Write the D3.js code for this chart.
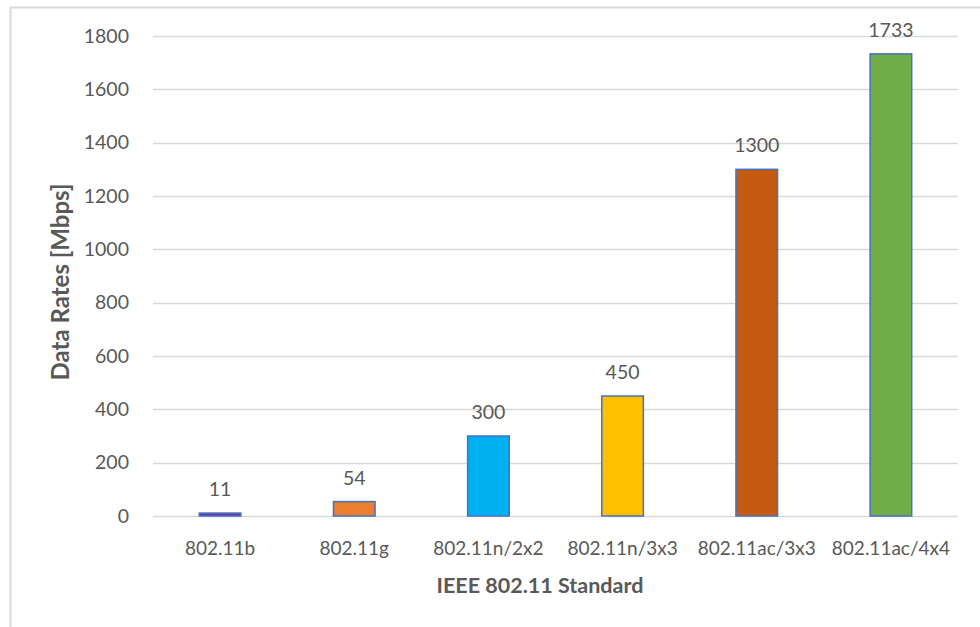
<!DOCTYPE html>
<html>
<head>
<meta charset="utf-8">
<script src="https://cdn.jsdelivr.net/npm/d3@7"></script>
<style>
  html, body { margin: 0; padding: 0; background: #fff; }
  svg { display: block; }
  text { font-family: Lato, "Open Sans", sans-serif; fill: #595959; }
</style>
</head>
<body>
<svg id="chart" width="980" height="627"></svg>
<script>
// Wi-Fi standards and their peak data rates (Mbps)
const standards = ["802.11b", "802.11g", "802.11n/2x2", "802.11n/3x3", "802.11ac/3x3", "802.11ac/4x4"];
const rates = [11, 54, 300, 450, 1300, 1733];
const barColors = ["#7030A0", "#ED7D31", "#00B0F0", "#FFC000", "#C55A11", "#70AD47"];
const yTicks = [0, 200, 400, 600, 800, 1000, 1200, 1400, 1600, 1800];

const svg = d3.select("#chart");
const W = 980, H = 627;
const plot = { left: 153, right: 958, top: 36, bottom: 516 };
const FONT = "Lato, 'Open Sans', sans-serif";

// chart frame
svg.append("rect")
  .attr("x", 10.5).attr("y", 7.5)
  .attr("width", W + 10).attr("height", H + 10)
  .attr("fill", "#fff").attr("stroke", "#d9d9d9").attr("stroke-width", 2);

const x = d3.scaleBand()
  .domain(standards)
  .range([plot.left, plot.right])
  .paddingInner(0.69).paddingOuter(0.345);

const y = d3.scaleLinear().domain([0, 1800]).range([plot.bottom, plot.top]);

// horizontal gridlines
svg.append("g")
  .selectAll("line").data(yTicks).join("line")
  .attr("x1", plot.left).attr("x2", plot.right)
  .attr("y1", d => Math.round(y(d)) + 0.5).attr("y2", d => Math.round(y(d)) + 0.5)
  .attr("stroke", "#d9d9d9").attr("stroke-width", 1.5);

// y axis labels
const yAxis = d3.axisLeft(y).tickValues(yTicks).tickFormat(d3.format("d")).tickSize(0).tickPadding(0);
const gy = svg.append("g").attr("transform", `translate(${plot.left - 24},0)`).call(yAxis);
gy.select(".domain").remove();
gy.selectAll("text").attr("font-size", 19.5).style("fill", "#595959").style("font-family", FONT);

// x axis labels
const xAxis = d3.axisBottom(x).tickSize(0).tickPadding(0);
const gx = svg.append("g").attr("transform", `translate(0,${plot.bottom})`).call(xAxis);
gx.select(".domain").remove();
gx.selectAll("text").attr("font-size", 19).attr("dy", null).attr("y", 39)
  .style("fill", "#595959").style("font-family", FONT);

// bars
svg.append("g")
  .selectAll("rect").data(standards).join("rect")
  .attr("x", d => x(d))
  .attr("y", (d, i) => y(rates[i]))
  .attr("width", x.bandwidth())
  .attr("height", (d, i) => y(0) - y(rates[i]))
  .attr("fill", (d, i) => barColors[i])
  .attr("stroke", "#4472C4").attr("stroke-width", 1.5);

// value labels
svg.append("g")
  .selectAll("text").data(standards).join("text")
  .attr("x", d => x(d) + x.bandwidth() / 2)
  .attr("y", (d, i) => y(rates[i]) - 17)
  .attr("text-anchor", "middle")
  .attr("font-size", 19.5)
  .text((d, i) => rates[i]);

// axis titles
svg.append("text")
  .attr("transform", "translate(69,282) rotate(-90)")
  .attr("text-anchor", "middle")
  .attr("font-size", 24).attr("font-weight", "bold")
  .text("Data Rates [Mbps]");

svg.append("text")
  .attr("x", 540)
  .attr("y", 593)
  .attr("text-anchor", "middle")
  .attr("font-size", 21.5).attr("font-weight", "bold")
  .text("IEEE 802.11 Standard");
</script>
</body>
</html>
